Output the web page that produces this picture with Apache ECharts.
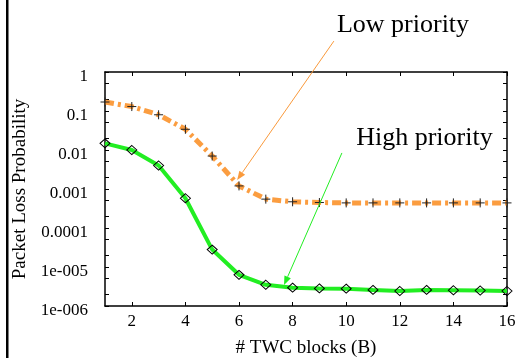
<!DOCTYPE html>
<html>
<head>
<meta charset="utf-8">
<script src="https://cdn.jsdelivr.net/npm/echarts@6/dist/echarts.min.js"></script>
<style>
html,body{margin:0;padding:0;background:#fff;}
#c{width:516px;height:358px;}
</style>
</head>
<body>
<div id="c"></div>
<script>
// ---- data ----
var blocks = [1,2,3,4,5,6,7,8,9,10,11,12,13,14,15,16];
var lowPriority = [0.17,0.13,0.08,0.034,0.007,0.0012,0.00055,0.00047,0.00045,0.00044,0.00044,0.00044,0.00044,0.00044,0.00044,0.00044];
var highPriority = [0.0148,0.010,0.0040,0.00058,0.000028,0.0000063,0.0000035,0.00000295,0.00000283,0.00000278,0.00000258,0.00000243,0.00000258,0.00000254,0.0000025,0.00000243];
var xTicks = [2,4,6,8,10,12,14,16];
var yTicks = [1e-6,1e-5,1e-4,1e-3,1e-2,1e-1,1];
var yTickLabels = ['1e-006','1e-005','0.0001','0.001','0.01','0.1','1'];
var yMinorTicks = [2e-6,5e-6,2e-5,5e-5,2e-4,5e-4,2e-3,5e-3,2e-2,5e-2,2e-1,5e-1];
var annotationLabels = ['Low priority','High priority'];
// arrows in data coordinates: [fromX, fromY, toX, toY]
var lowArrow = [9.54, 6.2, 5.93, 0.0017];
var highArrow = [9.84, 0.0084, 7.68, 3.45e-6];
var lowLabelPos = [12.12, 16];
var highLabelPos = [12.92, 0.0205];

var font = 'Liberation Serif';
var chart = echarts.init(document.getElementById('c'), null, {renderer:'canvas'});

function pairs(xs, ys){ return xs.map(function(x,i){return [x, ys[i]];}); }
var allYTicks = yTicks.concat(yMinorTicks);

var xBase = {
  type:'value', min:1, max:16,
  axisLine:{show:true, onZero:false, lineStyle:{color:'#000', width:1.5}},
  splitLine:{show:false}
};
var yBase = {
  type:'log', min:1e-6, max:1, logBase:10,
  axisLine:{show:true, onZero:false, lineStyle:{color:'#000', width:1.5}},
  splitLine:{show:false}
};

var option = {
  animation:false,
  backgroundColor:'#fff',
  grid:{left:105, right:9, top:72, bottom:52, containLabel:false, outerBoundsMode:'none'},
  xAxis:[
    Object.assign({}, xBase, {
      position:'bottom',
      name:'# TWC blocks (B)', nameLocation:'middle', nameGap:33,
      nameTextStyle:{fontFamily:font, fontSize:19, color:'#000'},
      axisTick:{show:true, inside:true, length:4, customValues:xTicks, lineStyle:{color:'#000'}},
      axisLabel:{show:true, customValues:xTicks, margin:7, fontFamily:font, fontSize:17, color:'#000'}
    }),
    Object.assign({}, xBase, {
      position:'top',
      axisTick:{show:true, inside:true, length:4, customValues:xTicks, lineStyle:{color:'#000'}},
      axisLabel:{show:false}
    })
  ],
  yAxis:[
    Object.assign({}, yBase, {
      position:'left',
      name:'Packet Loss Probability', nameLocation:'middle', nameGap:74,
      nameTextStyle:{fontFamily:font, fontSize:19, color:'#000'},
      axisTick:{show:true, inside:true, length:4, customValues:allYTicks, lineStyle:{color:'#000'}},
      axisLabel:{show:true, customValues:yTicks, margin:17, fontFamily:font, fontSize:17, color:'#000',
        verticalAlign:'top', lineHeight:9,
        formatter:function(v){ var i = yTicks.findIndex(function(t){return Math.abs(Math.log10(t)-Math.log10(v))<1e-6;}); return i>=0 ? yTickLabels[i] : ''; }}
    }),
    Object.assign({}, yBase, {
      position:'right',
      axisTick:{show:true, inside:true, length:4, customValues:allYTicks, lineStyle:{color:'#000'}},
      axisLabel:{show:false}
    })
  ],
  series:[
    {
      name:'Low priority', type:'line', xAxisIndex:0, yAxisIndex:0,
      data:pairs(blocks, lowPriority),
      lineStyle:{color:'rgba(250,140,30,0.85)', width:5, type:[9,4,3,4]},
      symbol:'path://M0,5L10,5M5,0L5,10', symbolSize:9,
      itemStyle:{color:'rgba(0,0,0,0)', borderColor:'#222', borderWidth:1},
      z:3
    },
    {
      name:'High priority', type:'line', xAxisIndex:0, yAxisIndex:0,
      data:pairs(blocks, highPriority),
      lineStyle:{color:'#22ee22', width:4},
      symbol:'diamond', symbolSize:[10,9],
      itemStyle:{color:'rgba(0,0,0,0)', borderColor:'#000', borderWidth:1},
      z:4
    }
  ]
};
chart.setOption(option);

function arrowGraphic(a, color){
  var p0 = chart.convertToPixel({gridIndex:0}, [a[0], a[1]]);
  var p1 = chart.convertToPixel({gridIndex:0}, [a[2], a[3]]);
  var dx = p1[0]-p0[0], dy = p1[1]-p0[1];
  var L = Math.sqrt(dx*dx+dy*dy); var ux = dx/L, uy = dy/L;
  var hl = 9, hw = 3.5;
  var bx = p1[0]-ux*hl, by = p1[1]-uy*hl;
  return [
    {type:'line', shape:{x1:p0[0], y1:p0[1], x2:bx, y2:by}, style:{stroke:color, lineWidth:1}, z:10},
    {type:'polygon', shape:{points:[[p1[0],p1[1]],[bx-uy*hw, by+ux*hw],[bx+uy*hw, by-ux*hw]]}, style:{fill:color}, z:10}
  ];
}
var lp = chart.convertToPixel({gridIndex:0}, lowLabelPos);
var hp = chart.convertToPixel({gridIndex:0}, highLabelPos);
var g = [
  {type:'rect', shape:{x:6, y:0, width:2.5, height:358}, style:{fill:'#000'}, z:10},
  {type:'text', x:lp[0], y:lp[1], style:{text:annotationLabels[0], font:'26px "Liberation Serif"', fill:'#000', align:'center', verticalAlign:'middle'}, z:10},
  {type:'text', x:hp[0], y:hp[1], style:{text:annotationLabels[1], font:'26px "Liberation Serif"', fill:'#000', align:'center', verticalAlign:'middle'}, z:10}
].concat(arrowGraphic(lowArrow, '#fa9a3c')).concat(arrowGraphic(highArrow, '#22ee22'));
chart.setOption({graphic:g});
</script>
</body>
</html>
